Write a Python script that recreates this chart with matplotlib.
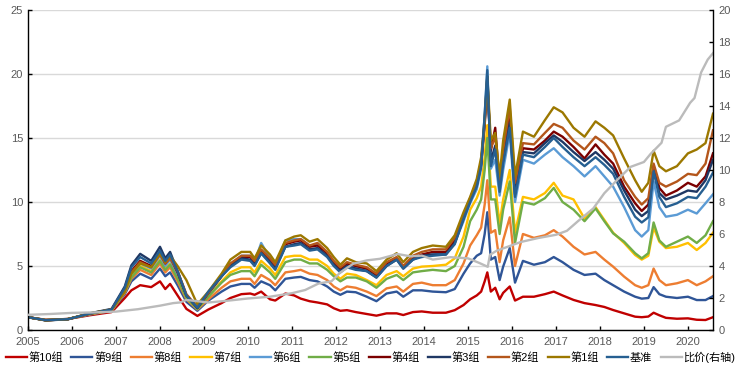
import matplotlib
matplotlib.use("Agg")
import matplotlib.pyplot as plt
import numpy as np

plt.rcParams['font.family'] = ['Liberation Sans', 'Noto Sans CJK SC', 'DejaVu Sans']

# time points (decimal years)
dates = [2005.00, 2005.40, 2005.90, 2006.40, 2006.90, 2007.20, 2007.35, 2007.55, 2007.80, 2008.00,
         2008.12, 2008.23, 2008.40, 2008.60, 2008.85, 2009.10, 2009.40, 2009.60, 2009.85, 2010.05,
         2010.15, 2010.30, 2010.50, 2010.62, 2010.85, 2011.05, 2011.20, 2011.40, 2011.58, 2011.80,
         2011.95, 2012.10, 2012.25, 2012.45, 2012.70, 2012.92, 2013.15, 2013.38, 2013.53, 2013.75,
         2013.95, 2014.20, 2014.50, 2014.70, 2014.90, 2015.05, 2015.20, 2015.30, 2015.38, 2015.44,
         2015.52, 2015.62, 2015.72, 2015.80, 2015.95, 2016.07, 2016.25, 2016.50, 2016.75, 2016.95,
         2017.15, 2017.40, 2017.65, 2017.90, 2018.10, 2018.30, 2018.55, 2018.80, 2018.95, 2019.10,
         2019.22, 2019.35, 2019.50, 2019.75, 2020.00, 2020.20, 2020.40, 2020.57]

g1 = [1.0, 0.76, 0.84, 1.30, 1.60, 3.0, 4.4, 5.2, 4.9, 6.0,
      5.3, 5.8, 5.0, 3.9, 2.0, 3.0, 4.4, 5.5, 6.1, 6.1,
      5.6, 6.6, 5.9, 5.3, 7.0, 7.3, 7.4, 6.9, 7.1, 6.4,
      5.7, 5.1, 5.6, 5.3, 5.2, 4.6, 5.5, 6.0, 5.3, 6.1,
      6.4, 6.6, 6.5, 7.4, 9.2, 10.4, 11.8, 13.5, 16.5, 19.8,
      14.8, 15.4, 12.0, 14.8, 18.0, 12.0, 15.5, 15.1, 16.4, 17.4,
      17.0, 15.8, 15.1, 16.3, 15.8, 15.2, 13.4, 11.7, 10.8, 11.5,
      14.0, 12.8, 12.4, 12.8, 13.8, 14.1, 14.6, 16.9]
g2 = [1.0, 0.77, 0.84, 1.28, 1.60, 3.1, 4.5, 5.3, 4.9, 5.9,
      5.2, 5.6, 4.6, 2.8, 1.8, 2.9, 4.3, 5.2, 5.8, 5.8,
      5.4, 6.3, 5.6, 5.1, 6.8, 7.0, 7.1, 6.6, 6.8, 6.1,
      5.4, 4.9, 5.3, 5.1, 4.9, 4.4, 5.3, 5.7, 5.0, 5.8,
      6.1, 6.3, 6.3, 7.2, 9.0, 10.3, 11.6, 13.2, 16.2, 19.6,
      14.2, 15.1, 11.6, 14.1, 17.4, 11.5, 14.6, 14.5, 15.4, 16.1,
      15.8, 14.8, 14.1, 15.1, 14.6, 13.8, 11.7, 10.4, 9.8, 10.3,
      13.0, 11.5, 11.2, 11.6, 12.2, 12.1, 13.0, 15.6]
g3 = [1.0, 0.75, 0.83, 1.30, 1.65, 3.4, 5.05, 5.95, 5.4, 6.5,
      5.6, 6.1, 4.6, 2.7, 1.7, 2.9, 4.2, 5.0, 5.6, 5.5,
      5.1, 6.0, 5.3, 4.8, 6.5, 6.7, 6.8, 6.3, 6.4, 5.8,
      5.1, 4.6, 5.0, 4.8, 4.6, 4.1, 5.0, 5.5, 4.8, 5.5,
      5.8, 5.9, 5.9, 6.8, 8.7, 10.1, 11.3, 12.9, 16.3, 19.8,
      13.2, 14.4, 11.2, 13.3, 16.2, 10.6, 13.9, 13.8, 14.6, 15.2,
      14.7, 13.9, 13.2, 13.9, 13.3, 12.6, 10.9, 9.4, 8.9, 9.3,
      12.5, 10.7, 10.2, 10.5, 10.9, 10.8, 11.7, 13.3]
g4 = [1.0, 0.76, 0.84, 1.27, 1.60, 3.2, 4.6, 5.4, 5.0, 6.0,
      5.2, 5.7, 4.5, 2.7, 1.75, 2.9, 4.2, 5.1, 5.7, 5.7,
      5.3, 6.2, 5.5, 5.0, 6.7, 6.9, 7.0, 6.5, 6.6, 6.0,
      5.3, 4.8, 5.2, 5.0, 4.8, 4.3, 5.2, 5.6, 4.9, 5.6,
      5.9, 6.1, 6.1, 7.0, 8.8, 10.2, 11.4, 13.0, 16.0, 19.2,
      14.0, 15.8, 11.4, 13.8, 16.8, 11.0, 14.2, 14.1, 14.8, 15.5,
      15.1, 14.3, 13.4, 14.5, 13.7, 13.0, 11.2, 9.9, 9.3, 9.8,
      12.8, 11.1, 10.5, 10.9, 11.5, 11.2, 12.0, 13.8]
g5 = [1.0, 0.77, 0.85, 1.25, 1.55, 3.0, 4.1, 4.9, 4.5, 5.4,
      4.7, 5.1, 4.0, 2.5, 1.65, 2.6, 3.7, 4.3, 4.6, 4.6,
      4.2, 5.1, 4.5, 4.0, 5.3, 5.5, 5.5, 5.2, 5.2, 4.7,
      4.2, 3.8, 4.1, 4.1, 3.8, 3.3, 4.0, 4.3, 3.9, 4.5,
      4.6, 4.7, 4.6, 5.0, 6.5, 8.5, 9.4, 10.2, 12.5, 15.0,
      10.2, 10.2, 7.5, 9.4, 11.6, 6.8, 10.0, 9.8, 10.3, 11.1,
      10.0, 9.4, 8.5, 9.5, 8.5, 7.55, 6.9, 6.0, 5.6, 6.0,
      8.4, 7.0, 6.5, 6.9, 7.3, 6.8, 7.4, 8.5]
g6 = [1.0, 0.76, 0.84, 1.27, 1.60, 3.1, 4.4, 5.2, 4.8, 5.8,
      5.0, 5.5, 4.3, 2.6, 1.7, 2.8, 4.2, 5.1, 5.8, 5.8,
      5.3, 6.8, 5.6, 5.0, 7.0, 7.1, 7.1, 6.6, 6.7, 6.0,
      5.3, 4.7, 5.1, 4.9, 4.7, 4.2, 5.1, 5.6, 4.9, 5.6,
      5.8, 5.9, 6.0, 6.8, 8.5, 9.9, 11.0, 12.6, 16.8, 20.6,
      12.6, 13.3, 10.5, 12.5, 15.4, 10.0, 13.3, 13.0, 13.7, 14.2,
      13.5, 12.8, 12.0, 12.8, 12.0, 11.2, 9.6, 7.8, 7.3, 7.8,
      11.6, 9.6, 8.85, 9.0, 9.4, 9.1, 9.9, 10.6]
g7 = [1.0, 0.77, 0.85, 1.25, 1.55, 3.0, 4.2, 5.0, 4.6, 5.5,
      4.8, 5.2, 4.1, 2.5, 1.65, 2.7, 3.8, 4.5, 4.9, 4.9,
      4.5, 5.4, 4.8, 4.3, 5.7, 5.8, 5.8, 5.5, 5.5, 5.0,
      4.4, 4.0, 4.4, 4.3, 3.9, 3.5, 4.3, 4.6, 4.2, 4.8,
      4.95, 5.0, 5.1, 5.6, 7.3, 9.4, 10.3, 11.2, 13.5, 16.0,
      11.2, 11.2, 8.3, 10.2, 12.5, 7.6, 10.4, 10.2, 10.7, 11.5,
      10.5, 10.2, 8.7, 9.6, 8.6, 7.6, 6.8, 5.86, 5.5, 5.8,
      8.0, 6.9, 6.4, 6.5, 6.8, 6.25, 6.8, 7.6]
g8 = [1.0, 0.78, 0.85, 1.22, 1.50, 2.9, 4.0, 4.7, 4.3, 5.2,
      4.5, 4.9, 3.8, 2.4, 1.6, 2.4, 3.3, 3.8, 4.0, 4.0,
      3.6, 4.3, 3.9, 3.5, 4.5, 4.6, 4.7, 4.4, 4.3, 3.9,
      3.4, 3.1, 3.4, 3.3, 3.0, 2.65, 3.25, 3.4, 3.0, 3.6,
      3.7, 3.5, 3.5, 3.9, 5.2, 6.6, 7.4, 8.0, 9.8, 11.7,
      7.6, 7.8, 5.3, 7.0, 8.8, 5.0, 7.5, 7.2, 7.4, 7.8,
      7.3, 6.5, 5.9, 6.1, 5.5, 4.95, 4.17, 3.5, 3.3, 3.5,
      4.8, 3.9, 3.5, 3.65, 3.9, 3.5, 3.8, 4.2]
g9 = [1.0, 0.78, 0.86, 1.20, 1.50, 2.8, 3.8, 4.4, 4.0, 4.8,
      4.2, 4.5, 3.5, 2.2, 1.5, 2.3, 3.0, 3.4, 3.6, 3.6,
      3.3, 3.8, 3.5, 3.1, 4.0, 4.1, 4.15, 3.9, 3.8, 3.4,
      3.0, 2.75, 3.0, 2.95, 2.6, 2.25, 2.85, 3.0, 2.6, 3.1,
      3.1, 3.0, 2.95, 3.2, 4.4, 5.2, 5.8, 6.0, 7.5, 9.2,
      5.5, 5.7, 3.9, 4.95, 6.4, 3.7, 5.4, 5.1, 5.3, 5.7,
      5.3, 4.7, 4.3, 4.4, 3.9, 3.5, 3.0, 2.6, 2.45, 2.5,
      3.35, 2.8, 2.6, 2.5, 2.6, 2.34, 2.34, 2.65]
g10 = [1.0, 0.80, 0.86, 1.15, 1.40, 2.5, 3.1, 3.5, 3.35, 3.8,
       3.2, 3.6, 2.7, 1.65, 1.1, 1.6, 2.1, 2.5, 2.8, 2.85,
       2.75, 3.0, 2.4, 2.3, 2.85, 2.7, 2.45, 2.25, 2.15, 2.0,
       1.7, 1.5, 1.55, 1.4, 1.25, 1.12, 1.3, 1.3, 1.17, 1.4,
       1.45, 1.35, 1.35, 1.55, 1.95, 2.4, 2.7, 3.0, 3.8, 4.5,
       3.0, 3.3, 2.4, 2.9, 3.4, 2.3, 2.6, 2.6, 2.8, 3.0,
       2.7, 2.35, 2.1, 1.95, 1.8, 1.56, 1.3, 1.04, 1.0, 1.05,
       1.35, 1.15, 0.95, 0.88, 0.91, 0.8, 0.78, 1.0]
bench = [1.0, 0.77, 0.84, 1.28, 1.60, 3.3, 4.9, 5.7, 5.2, 6.2,
         5.4, 5.9, 4.6, 2.7, 1.75, 3.0, 4.2, 4.9, 5.5, 5.4,
         5.0, 6.0, 5.2, 4.7, 6.5, 6.6, 6.7, 6.2, 6.3, 5.7,
         5.0, 4.5, 4.9, 4.7, 4.6, 4.1, 5.0, 5.5, 4.8, 5.5,
         5.7, 5.8, 5.9, 6.7, 8.7, 10.0, 11.2, 12.8, 16.8, 20.3,
         12.8, 14.1, 10.8, 13.0, 15.8, 10.4, 13.7, 13.5, 14.3, 15.0,
         14.3, 13.5, 12.8, 13.5, 12.9, 12.2, 10.4, 8.85, 8.4, 8.8,
         12.4, 10.4, 9.6, 9.9, 10.4, 10.3, 11.2, 12.3]

# ratio series (right axis)
ratio_dates = [2005.0, 2005.5, 2006.0, 2006.5, 2007.0, 2007.5, 2008.0, 2008.3, 2008.45, 2008.6,
               2008.85, 2009.1, 2009.5, 2010.0, 2010.5, 2011.0, 2011.3, 2011.6, 2011.9, 2012.1,
               2012.4, 2012.7, 2013.0, 2013.4, 2013.7, 2013.95, 2014.2, 2014.6, 2015.0, 2015.25,
               2015.45, 2015.5, 2015.65, 2015.9, 2016.2, 2016.6, 2017.0, 2017.25, 2017.5, 2017.85,
               2018.1, 2018.4, 2018.7, 2019.0, 2019.15, 2019.4, 2019.5, 2019.8, 2020.05, 2020.15,
               2020.3, 2020.45, 2020.57]
ratio = [0.95, 1.0, 1.07, 1.1, 1.15, 1.3, 1.52, 1.68, 1.72, 1.88,
         1.8, 1.72, 1.82, 1.97, 2.08, 2.3, 2.5, 2.9, 3.05, 3.6,
         4.15, 4.35, 4.45, 4.75, 4.6, 4.65, 4.4, 4.55, 4.48, 4.2,
         3.95, 4.7, 4.95, 5.2, 5.5, 5.75, 5.95, 6.2, 6.8, 7.6,
         8.55, 9.4, 10.2, 10.5, 11.0, 11.7, 12.7, 13.1, 14.2, 14.5,
         16.1, 16.9, 17.3]

labels = ['第10组', '第9组', '第8组', '第7组', '第6组', '第5组',
          '第4组', '第3组', '第2组', '第1组', '基准', '比价(右轴)']
series = [g10, g9, g8, g7, g6, g5, g4, g3, g2, g1, bench]
colors = ['#C00000', '#2F5597', '#ED7D31', '#FFC000', '#5B9BD5', '#70AD47',
          '#7B0000', '#1F3864', '#B4561B', '#9C7800', '#265F91', '#BBBBBB']
year_ticks = list(range(2005, 2021))

fig = plt.figure(figsize=(7.41, 3.66), dpi=100)
ax = fig.add_axes([28/741, 1-330/366, (713-28)/741, 320/366])
ax2 = ax.twinx()

handles = []
for vals, col, lab in zip(series, colors[:-1], labels[:-1]):
    h, = ax.plot(dates, vals, color=col, lw=1.7, label=lab, solid_joinstyle='round')
    handles.append(h)
h, = ax2.plot(ratio_dates, ratio, color=colors[-1], lw=1.7, label=labels[-1])
handles.append(h)

ax.set_xlim(2005, 2020.57)
ax.set_ylim(0, 25)
ax2.set_ylim(0, 20)
ax.set_yticks(range(0, 26, 5))
ax2.set_yticks(range(0, 21, 2))
ax.set_xticks(year_ticks)
ax.set_xticklabels([str(y) for y in year_ticks])

ax.yaxis.grid(True, color='#D9D9D9', lw=1)
ax.set_axisbelow(True)
for a in (ax, ax2):
    a.spines['top'].set_visible(False)
    for s in ('left', 'right', 'bottom'):
        a.spines[s].set_color('black')
        a.spines[s].set_linewidth(1)
ax.spines['right'].set_visible(False)
ax2.spines['left'].set_visible(False)
ax2.spines['bottom'].set_visible(False)

ax.tick_params(axis='both', direction='in', length=3, width=1, colors='black',
               labelcolor='#595959', labelsize=8)
ax.tick_params(axis='x', pad=5)
ax2.tick_params(axis='y', direction='in', length=3, width=1, colors='black',
                labelcolor='#595959', labelsize=8, pad=4)

fig.legend(handles=handles, labels=labels, loc='lower center', bbox_to_anchor=(0.5, -0.005),
           ncol=12, frameon=False, fontsize=8, handlelength=1.9, handletextpad=0.15,
           columnspacing=0.75, borderaxespad=0.2, borderpad=0.2)

fig.savefig('out.png', dpi=100)
